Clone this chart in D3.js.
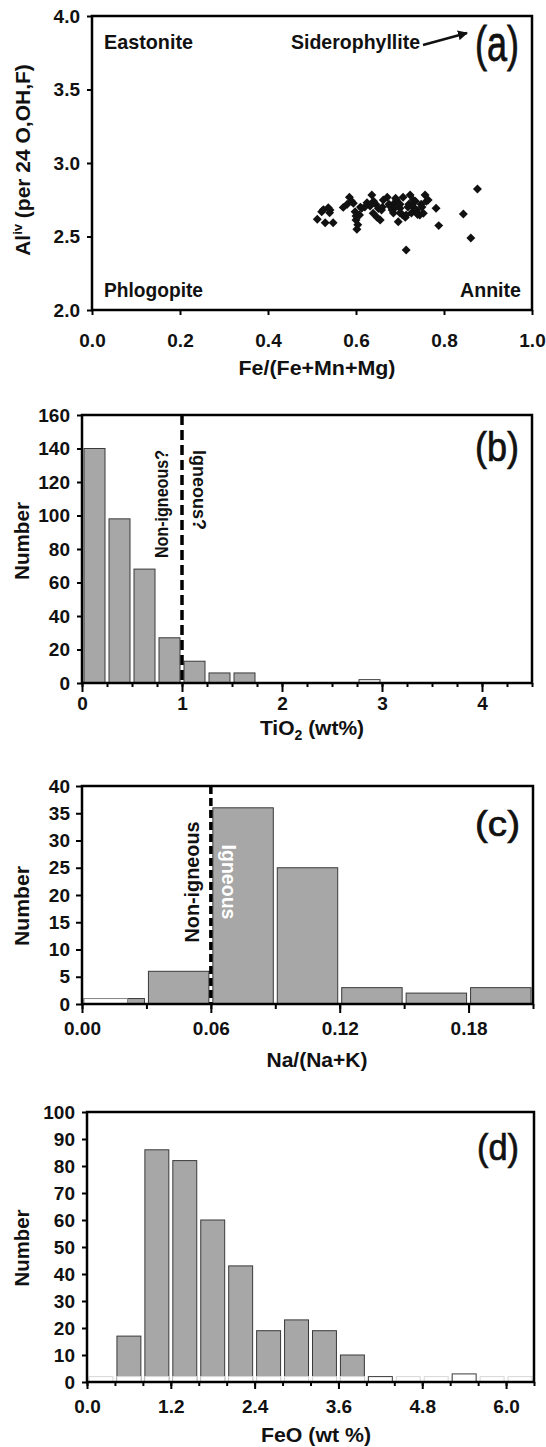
<!DOCTYPE html>
<html><head><meta charset="utf-8">
<script src="https://cdn.jsdelivr.net/npm/d3@7/dist/d3.min.js"></script>
<style>body{margin:0;background:#fff}svg{display:block}</style>
</head><body>
<svg id="chart" width="546" height="1447"></svg>
<script>
// ---------- DATA ----------
// (a) scatter: Fe/(Fe+Mn+Mg) vs Al(iv)
const feRatio = [0.512,0.522,0.526,0.530,0.537,0.540,0.548,0.541,
  0.571,0.580,0.585,0.590,0.594,0.598,0.600,0.600,0.602,0.604,0.608,0.610,0.613,0.620,
  0.632,0.636,0.639,0.640,0.645,0.651,0.655,0.658,0.662,0.648,
  0.671,0.675,0.677,0.682,0.688,0.692,0.696,0.700,0.700,0.705,0.707,0.712,0.714,0.718,0.723,0.726,0.730,0.733,0.738,0.740,0.745,0.748,0.753,0.757,0.760,0.764,0.685,0.690,
  0.690,0.720,0.735,0.750,0.660,0.625,0.700,0.727,
  0.782,0.788,0.844,0.861,0.876,0.714];
const alIV = [2.617,2.668,2.683,2.594,2.696,2.662,2.594,2.680,
  2.698,2.720,2.767,2.740,2.726,2.669,2.612,2.640,2.549,2.580,2.646,2.700,2.692,2.700,
  2.707,2.782,2.658,2.740,2.720,2.690,2.612,2.680,2.748,2.630,
  2.767,2.720,2.707,2.680,2.730,2.748,2.601,2.692,2.720,2.650,2.767,2.630,2.646,2.700,2.782,2.660,2.748,2.690,2.680,2.650,2.646,2.720,2.658,2.782,2.740,2.748,2.660,2.700,
  2.760,2.720,2.740,2.700,2.700,2.730,2.660,2.710,
  2.692,2.574,2.653,2.490,2.823,2.408];
const aXTicks = [0,0.2,0.4,0.6,0.8,1.0];
const aYTicks = [2.0,2.5,3.0,3.5,4.0];

// (b) TiO2 histogram
const tioEdges = [0,0.25,0.5,0.75,1,1.25,1.5,1.75,2,2.25,2.5,2.75,3,3.25,3.5,3.75,4,4.25,4.5];
const tioGray  = [140,98,68,27,13,6,6,0,0,0,0,0,0,0,0,0,0,0];
const tioWhite = [0,0,0,0,0,0,0,0,0,0,0,2,0,0,0,0,0,0];
const bXTicks = [0,1,2,3,4];
const bYTicks = [0,20,40,60,80,100,120,140,160];
const tioDivide = 1.0;

// (c) Na/(Na+K) histogram
const naEdges = [0,0.03,0.06,0.09,0.12,0.15,0.18,0.21];
const naGray  = [1,6,36,25,3,2,3];
const naWhite = [1,0,0,0,0,0,0];
const cXTicks = [0,0.06,0.12,0.18];
const cYTicks = [0,5,10,15,20,25,30,35,40];
const naDivide = 0.06;

// (d) FeO histogram
const feoEdges = [0,0.4,0.8,1.2,1.6,2.0,2.4,2.8,3.2,3.6,4.0,4.4,4.8,5.2,5.6,6.0,6.4];
const feoGray  = [0,17,86,82,60,43,19,23,19,10,0,0,0,0,0,0];
const feoWhite = [0,0,0,0,0,0,0,0,0,0,2,0,0,3,0,0];
const dXTicks = [0,1.2,2.4,3.6,4.8,6.0];
const dYTicks = [0,10,20,30,40,50,60,70,80,90,100];

// ---------- LAYOUT ----------
const FONT = '"Liberation Sans", Arial, Helvetica, sans-serif';
const PA = {x0:92, x1:532, y0:16,   y1:310};
const PB = {x0:82, x1:532, y0:415,  y1:683};
const PC = {x0:82, x1:533, y0:786,  y1:1004};
const PD = {x0:87, x1:534, y0:1112, y1:1382};
const GRAY = '#a7a7a7', EDGE = '#3a3a3a';

const svg = d3.select('#chart');
const defs = svg.append('defs');
defs.append('marker').attr('id','arr').attr('viewBox','0 0 10 10').attr('refX',9).attr('refY',5)
  .attr('markerWidth',4).attr('markerHeight',4).attr('orient','auto')
  .append('path').attr('d','M0,0L10,5L0,10Z').attr('fill','#111');

function txt(x, y, s, o = {}) {
  const t = svg.append('text').attr('x', x).attr('y', y).text(s)
    .attr('font-family', FONT).attr('font-size', o.size || 21)
    .attr('font-weight', o.weight || 'normal').attr('fill', o.fill || '#111')
    .attr('text-anchor', o.anchor || 'start');
  if (o.len) t.attr('textLength', o.len).attr('lengthAdjust', 'spacingAndGlyphs');
  if (o.rot) t.attr('transform', `rotate(${o.rot},${x},${y})`);
  if (o.heavy) t.attr('stroke', o.fill || '#111').attr('stroke-width', o.heavy);
  return t;
}

function axes(P, x, y, c) {
  const g = svg.append('g');
  if (c.xMinor) g.append('g').attr('transform', `translate(0,${P.y1})`)
    .call(d3.axisBottom(x).tickValues(c.xMinor).tickSize(c.minorLen).tickSizeOuter(0).tickFormat(''));
  g.append('g').attr('transform', `translate(0,${P.y1})`)
    .call(d3.axisBottom(x).tickValues(c.xTicks).tickSize(c.majorLen).tickSizeOuter(0)
      .tickPadding(c.xBase - 13.5 - c.majorLen).tickFormat(c.xFmt));
  g.append('g').attr('transform', `translate(${P.x0},0)`)
    .call(d3.axisLeft(y).tickValues(c.yTicks).tickSize(c.yLen).tickSizeOuter(0)
      .tickPadding(12 - c.yLen).tickFormat(c.yFmt));
  g.selectAll('.domain').remove();
  g.selectAll('.tick line').attr('stroke', '#000').attr('stroke-width', 2);
  g.selectAll('.tick text').attr('font-family', FONT).attr('font-weight', 'bold')
    .attr('font-size', 19).attr('fill', '#111');
}

function frame(P) {
  svg.append('rect').attr('x', P.x0).attr('y', P.y0).attr('width', P.x1 - P.x0).attr('height', P.y1 - P.y0)
    .attr('fill', 'none').attr('stroke', '#000').attr('stroke-width', 2.5);
}

function bars(x, y, edges, vals, fill, stroke, frac = 1) {
  svg.append('g').selectAll('rect')
    .data(vals.map((v, i) => ({v, i})).filter(d => d.v > 0)).join('rect')
    .attr('x', d => x(edges[d.i]) + 2)
    .attr('width', d => (x(edges[d.i + 1]) - x(edges[d.i]) - 4) * frac)
    .attr('y', d => y(d.v)).attr('height', d => y(0) - y(d.v))
    .attr('fill', fill).attr('stroke', stroke).attr('stroke-width', 1);
}

// ---------- (a) ----------
{
  const x = d3.scaleLinear().domain([0, 1]).range([PA.x0, PA.x1]);
  const y = d3.scaleLinear().domain([2, 4]).range([PA.y1, PA.y0]);
  svg.append('g').selectAll('path').data(feRatio.map((f, i) => [f, alIV[i]])).join('path')
    .attr('d', d3.symbol().type(d3.symbolSquare).size(40))
    .attr('transform', d => `translate(${x(d[0])},${y(d[1])}) rotate(45)`)
    .attr('fill', '#111');
  axes(PA, x, y, {xTicks: aXTicks, majorLen: 5, xBase: 37, xFmt: d3.format('.1f'),
    yTicks: aYTicks, yLen: 5, yFmt: d3.format('.1f')});
  frame(PA);
  txt(104, 49, 'Eastonite', {len: 89, weight: 'bold'});
  txt(291, 49, 'Siderophyllite', {len: 129, weight: 'bold'});
  svg.append('line').attr('x1', 423).attr('y1', 45).attr('x2', 467).attr('y2', 33)
    .attr('stroke', '#111').attr('stroke-width', 2.5).attr('marker-end', 'url(#arr)');
  txt(475, 61, '(a)', {size: 50, len: 44, heavy: 0.8});
  txt(104, 297, 'Phlogopite', {len: 99, weight: 'bold'});
  txt(460, 297, 'Annite', {len: 61, weight: 'bold'});
  txt(317, 375, 'Fe/(Fe+Mn+Mg)', {weight: 'bold', anchor: 'middle', len: 157});
  const yl = svg.append('text').attr('transform', 'translate(30,160) rotate(-90)')
    .attr('text-anchor', 'middle').attr('font-family', FONT).attr('font-weight', 'bold')
    .attr('font-size', 21).attr('fill', '#111');
  yl.append('tspan').text('Al');
  yl.append('tspan').text('iv').attr('font-size', 13).attr('dy', -8);
  yl.append('tspan').text(' (per 24 O,OH,F)').attr('dy', 8);
}

// ---------- (b) ----------
{
  const x = d3.scaleLinear().domain([0, 4.5]).range([PB.x0, PB.x1]);
  const y = d3.scaleLinear().domain([0, 160]).range([PB.y1, PB.y0]);
  bars(x, y, tioEdges, tioGray, GRAY, EDGE);
  bars(x, y, tioEdges, tioWhite, '#fff', EDGE);
  svg.append('line').attr('x1', x(tioDivide)).attr('x2', x(tioDivide)).attr('y1', PB.y0).attr('y2', PB.y1)
    .attr('stroke', '#000').attr('stroke-width', 3.5).attr('stroke-dasharray', '10,5');
  axes(PB, x, y, {xTicks: bXTicks, xMinor: tioEdges, majorLen: 9, minorLen: 4, xBase: 27, xFmt: d3.format('d'),
    yTicks: bYTicks, yLen: 5, yFmt: d3.format('d')});
  frame(PB);
  txt(168, 450, 'Non-igneous?', {rot: -90, size: 19, anchor: 'end', len: 108, weight: 'bold'});
  txt(193, 450, 'Igneous?', {rot: 90, size: 19, len: 80, weight: 'bold'});
  txt(475, 461, '(b)', {size: 40, len: 44, heavy: 0.7});
  const xl = svg.append('text').attr('x', 312).attr('y', 735).attr('text-anchor', 'middle')
    .attr('font-family', FONT).attr('font-weight', 'bold').attr('font-size', 21).attr('fill', '#111');
  xl.append('tspan').text('TiO');
  xl.append('tspan').text('2').attr('font-size', 14).attr('dy', 5);
  xl.append('tspan').text(' (wt%)').attr('dy', -5);
  txt(29, 541, 'Number', {rot: -90, weight: 'bold', anchor: 'middle', len: 78});
}

// ---------- (c) ----------
{
  const x = d3.scaleLinear().domain([0, 0.21]).range([PC.x0, PC.x1]);
  const y = d3.scaleLinear().domain([0, 40]).range([PC.y1, PC.y0]);
  bars(x, y, naEdges, naGray, GRAY, EDGE);
  bars(x, y, naEdges, naWhite, '#fff', '#888', 0.72);
  svg.append('line').attr('x1', x(naDivide)).attr('x2', x(naDivide)).attr('y1', PC.y0).attr('y2', PC.y1)
    .attr('stroke', '#000').attr('stroke-width', 3.5).attr('stroke-dasharray', '8,4');
  axes(PC, x, y, {xTicks: cXTicks, xMinor: naEdges, majorLen: 9, minorLen: 5, xBase: 31, xFmt: d3.format('.2f'),
    yTicks: cYTicks, yLen: 6, yFmt: d3.format('d')});
  frame(PC);
  txt(199, 882, 'Non-igneous', {rot: -90, size: 21, anchor: 'middle', len: 121, weight: 'bold'});
  txt(222, 882, 'Igneous', {rot: 90, size: 21, anchor: 'middle', len: 75, fill: '#fff', weight: 'bold'});
  txt(475, 836, '(c)', {size: 35, len: 45, heavy: 0.7});
  txt(317, 1067, 'Na/(Na+K)', {weight: 'bold', anchor: 'middle', len: 101});
  txt(29, 906, 'Number', {rot: -90, weight: 'bold', anchor: 'middle', len: 80});
}

// ---------- (d) ----------
{
  const x = d3.scaleLinear().domain([0, 6.4]).range([PD.x0, PD.x1]);
  const y = d3.scaleLinear().domain([0, 100]).range([PD.y1, PD.y0]);
  bars(x, y, feoEdges, feoGray, GRAY, EDGE);
  // faint white base strip seen along the baseline of the original
  bars(x, y, feoEdges, feoEdges.slice(1).map(() => 2), '#fff', '#d8d8d8');
  bars(x, y, feoEdges, feoWhite, '#fff', EDGE);
  axes(PD, x, y, {xTicks: dXTicks, xMinor: feoEdges, majorLen: 7, minorLen: 4, xBase: 31, xFmt: d3.format('.1f'),
    yTicks: dYTicks, yLen: 5, yFmt: d3.format('d')});
  frame(PD);
  txt(477, 1160, '(d)', {size: 37, len: 42, heavy: 0.7});
  txt(316, 1442, 'FeO (wt %)', {weight: 'bold', anchor: 'middle', len: 110});
  txt(29, 1248, 'Number', {rot: -90, weight: 'bold', anchor: 'middle', len: 77});
}
</script>
</body></html>
